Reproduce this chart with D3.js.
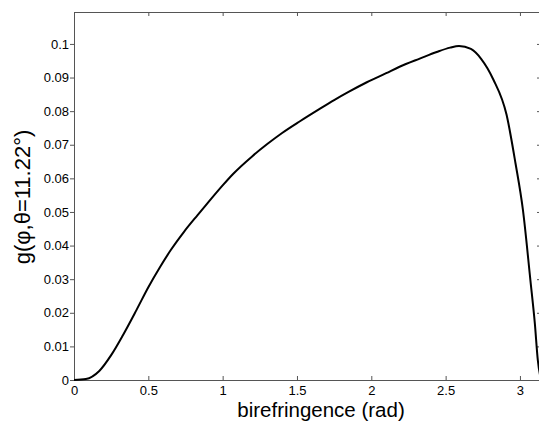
<!DOCTYPE html>
<html>
<head>
<meta charset="utf-8">
<script src="https://cdn.jsdelivr.net/npm/d3@7"></script>
<style>
  body { margin: 0; background: #fff; }
  svg { display: block; font-family: "Liberation Sans", Arial, Helvetica, sans-serif; }
</style>
</head>
<body>
<svg id="chart" width="539" height="421"></svg>
<script>
// birefringence (rad) vs g(phi, theta = 11.22 deg)
const biref = [0, 0.08, 0.17, 0.25, 0.33, 0.42, 0.5, 0.58, 0.65, 0.74, 0.83, 0.9, 1.0, 1.07,
  1.2, 1.3, 1.4, 1.52, 1.65, 1.75, 1.85, 1.97, 2.1, 2.19, 2.33, 2.44, 2.53, 2.59, 2.67,
  2.74, 2.82, 2.91, 2.97, 3.02, 3.07, 3.1, 3.12, 3.1416];
const gValues = [0, 0.0003, 0.0027, 0.0074, 0.0134, 0.0208, 0.0276, 0.0337, 0.0386, 0.0441,
  0.0490, 0.0527, 0.0579, 0.0613, 0.0666, 0.0702, 0.0735, 0.0770, 0.0806, 0.0833, 0.0858,
  0.0886, 0.0913, 0.0932, 0.0957, 0.0976, 0.0989, 0.0994, 0.0985, 0.0955, 0.0895, 0.0789,
  0.0645, 0.0506, 0.0298, 0.0169, 0.006, 0];
const xTicks = [0, 0.5, 1, 1.5, 2, 2.5, 3];
const xTickLabels = ["0", "0.5", "1", "1.5", "2", "2.5", "3"];
const yTicks = [0, 0.01, 0.02, 0.03, 0.04, 0.05, 0.06, 0.07, 0.08, 0.09, 0.1];
const yTickLabels = ["0", "0.01", "0.02", "0.03", "0.04", "0.05", "0.06", "0.07", "0.08", "0.09", "0.1"];

const plotLeft = 74, plotRight = 541, plotTop = 12, plotBottom = 380;
const svg = d3.select("#chart");

const x = d3.scaleLinear().domain([0, 3.1416]).range([plotLeft, plotRight]);
const y = d3.scaleLinear().domain([0, 0.1095]).range([plotBottom, plotTop]);

const axisColor = "#555";

function styleAxis(g) {
  g.selectAll(".domain").attr("stroke", axisColor);
  g.selectAll(".tick line").attr("stroke", axisColor);
  g.selectAll(".tick text").attr("fill", "#000").attr("font-size", 13);
}

svg.append("g")
  .attr("transform", `translate(0,${plotBottom})`)
  .call(d3.axisBottom(x).tickValues(xTicks).tickFormat((d, i) => xTickLabels[i])
    .tickSizeInner(-4).tickSizeOuter(0).tickPadding(6))
  .call(styleAxis);

svg.append("g")
  .attr("transform", `translate(0,${plotTop})`)
  .call(d3.axisTop(x).tickValues(xTicks).tickFormat("")
    .tickSizeInner(-4).tickSizeOuter(0))
  .call(styleAxis);

svg.append("g")
  .attr("transform", `translate(${plotLeft},0)`)
  .call(d3.axisLeft(y).tickValues(yTicks).tickFormat((d, i) => yTickLabels[i])
    .tickSizeInner(4).tickSizeOuter(0).tickPadding(1))
  .call(styleAxis);

svg.append("g")
  .attr("transform", `translate(${plotRight},0)`)
  .call(d3.axisRight(y).tickValues(yTicks).tickFormat("")
    .tickSizeInner(-4).tickSizeOuter(0))
  .call(styleAxis);

const line = d3.line()
  .x((d, i) => x(biref[i]))
  .y(d => y(d))
  .curve(d3.curveMonotoneX);

svg.append("path")
  .datum(gValues)
  .attr("fill", "none")
  .attr("stroke", "#000")
  .attr("stroke-width", 2)
  .attr("stroke-linejoin", "round")
  .attr("d", line);

svg.append("text")
  .attr("x", 321)
  .attr("y", 417)
  .attr("text-anchor", "middle")
  .attr("font-size", 20.5)
  .text("birefringence (rad)");

svg.append("text")
  .attr("transform", "translate(30,197) rotate(-90)")
  .attr("text-anchor", "middle")
  .attr("font-size", 22)
  .text("g(\u03c6,\u03b8=11.22\u00b0)");
</script>
</body>
</html>
